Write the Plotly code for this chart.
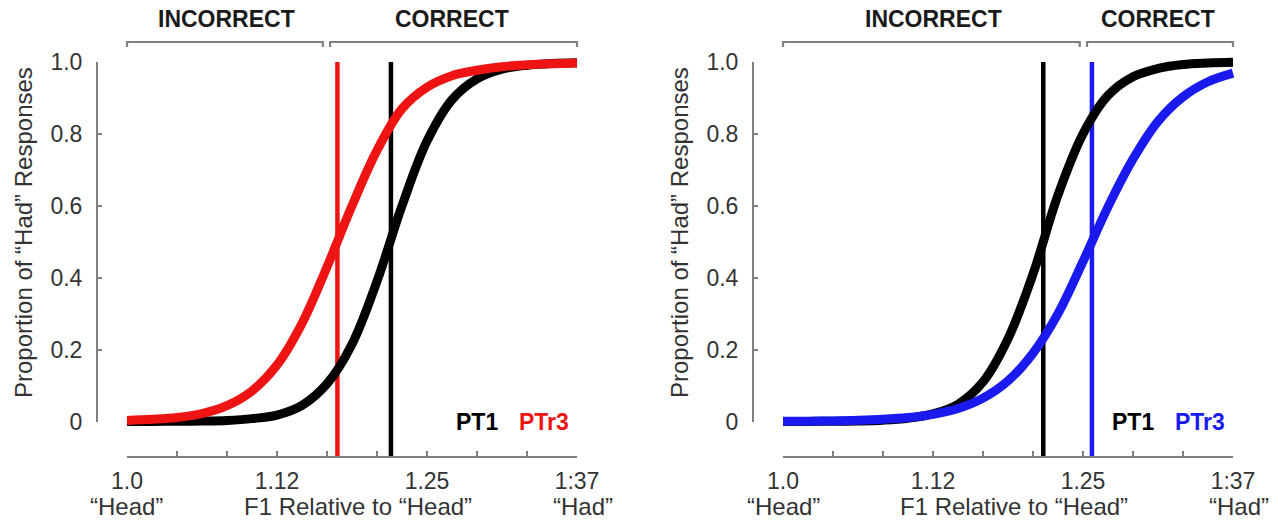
import plotly.graph_objects as go

# ---------------- data ----------------
# stimulus continuum: F1 relative to "Head" (10 steps, values read at half-steps)
f1_steps = [1.0 + i * 0.37 / 18 for i in range(19)]

# left panel
left_PT1 = [0.0001, 0.0002, 0.0006, 0.0013, 0.003, 0.008, 0.018, 0.045, 0.105, 0.215,
            0.39, 0.60, 0.78, 0.895, 0.953, 0.98, 0.991, 0.996, 0.998]
left_PTr3 = [0.003, 0.006, 0.011, 0.022, 0.044, 0.085, 0.157, 0.273, 0.43, 0.60,
             0.754, 0.87, 0.93, 0.962, 0.977, 0.987, 0.992, 0.995, 0.997]
# right panel
right_PT1 = [0.0001, 0.0003, 0.0006, 0.0015, 0.0037, 0.009, 0.021, 0.048, 0.11, 0.23,
             0.41, 0.63, 0.80, 0.907, 0.959, 0.982, 0.993, 0.997, 0.999]
right_PTr3 = [0.0005, 0.001, 0.0017, 0.0032, 0.006, 0.011, 0.02, 0.036, 0.065, 0.113,
              0.19, 0.30, 0.445, 0.597, 0.73, 0.835, 0.903, 0.945, 0.969]

# category boundaries (50% points)
left_boundaries = {"PT1": 1.217, "PTr3": 1.173}
right_boundaries = {"PT1": 1.214, "PTr3": 1.254}
# bracket split between INCORRECT / CORRECT
bracket_split = [1.164, 1.247]

# ticks
x_tickvals = [1.0 + i * 0.37 / 9 for i in range(10)]
x_ticktext = ["1.0", "", "", "1.12", "", "", "1.25", "", "", "1:37"]
y_tickvals = [0, 0.2, 0.4, 0.6, 0.8, 1.0]
y_ticktext = ["0", "0.2", "0.4", "0.6", "0.8", "1.0"]

# ---------------- layout geometry ----------------
W, H = 1284, 523
X_START = [127, 783]          # pixel of x = 1.0 in each panel
PX_PER_X = 450 / 0.37
Y_ZERO = 421.5
PX_PER_Y = 359.5
YAXIS_PX = [97, 753]
XAXIS_PY = 457

FONT = "Liberation Sans, Arial, Helvetica, sans-serif"
RED = "#ee1414"
BLUE = "#1a1aee"
BLACK = "#000000"
GRAY = "#808080"
TXT = "#333333"
FS = 24


def px2paper_x(px):
    return px / W


def py2paper_y(py):
    return 1 - py / H


def px2data(px, panel):
    return 1.0 + (px - X_START[panel]) / PX_PER_X


def py2data(py):
    return (Y_ZERO - py) / PX_PER_Y


fig = go.Figure()

panels = [
    dict(PT1=left_PT1, PTr3=left_PTr3, color=RED, bnd=left_boundaries),
    dict(PT1=right_PT1, PTr3=right_PTr3, color=BLUE, bnd=right_boundaries),
]

annotations = []
shapes = []


def ann(**kw):
    kw.setdefault("showarrow", False)
    kw.setdefault("xanchor", "center")
    kw.setdefault("yanchor", "middle")
    annotations.append(kw)


for p, pan in enumerate(panels):
    xa = "x" if p == 0 else "x2"
    ya = "y" if p == 0 else "y2"
    # vertical boundary lines
    for key, col in (("PT1", BLACK), ("PTr3", pan["color"])):
        b = pan["bnd"][key]
        fig.add_trace(go.Scatter(x=[b, b], y=[py2data(XAXIS_PY), 1.0], mode="lines",
                                 line=dict(color=col, width=4.5), xaxis=xa, yaxis=ya,
                                 showlegend=False, hoverinfo="skip"))
    # curves
    fig.add_trace(go.Scatter(x=f1_steps, y=pan["PT1"], mode="lines",
                             line=dict(color=BLACK, width=9, shape="spline"),
                             xaxis=xa, yaxis=ya, showlegend=False, hoverinfo="skip"))
    fig.add_trace(go.Scatter(x=f1_steps, y=pan["PTr3"], mode="lines",
                             line=dict(color=pan["color"], width=9, shape="spline"),
                             xaxis=xa, yaxis=ya, showlegend=False, hoverinfo="skip"))
    # dummy trace establishing the spine axes
    sx = "x3" if p == 0 else "x4"
    sy = "y3" if p == 0 else "y4"
    fig.add_trace(go.Scatter(x=[1.0], y=[0], mode="markers", marker=dict(opacity=0),
                             xaxis=sx, yaxis=sy, showlegend=False, hoverinfo="skip"))

    # brackets
    split = bracket_split[p]
    by = py2data(42)
    bt = py2data(47)
    for (a, b) in ((1.0, split - 0.003), (split + 0.003, 1.37)):
        shapes.append(dict(type="path", xref=xa, yref=ya,
                           path=f"M {a},{bt} L {a},{by} L {b},{by} L {b},{bt}",
                           line=dict(color=GRAY, width=2.2)))
    ann(x=(1.0 + split) / 2, y=py2paper_y(19), xref=xa, yref="paper",
        text="<b>INCORRECT</b>", font=dict(family=FONT, size=23, color="#1a1a1a"))
    ann(x=(split + 1.37) / 2, y=py2paper_y(19), xref=xa, yref="paper",
        text="<b>CORRECT</b>", font=dict(family=FONT, size=23, color="#1a1a1a"))
    # legend labels
    ann(x=px2data(500, 0), y=0, xref=xa, yref=ya, xanchor="right",
        text="<b>PT1</b>", font=dict(family=FONT, size=23, color=BLACK))
    ann(x=px2data(517, 0), y=0, xref=xa, yref=ya, xanchor="left",
        text="<b>PTr3</b>", font=dict(family=FONT, size=23, color=pan["color"]))
    # x axis title and end labels
    ann(x=px2data(358, 0), y=py2paper_y(506), xref=xa, yref="paper",
        text="F1 Relative to “Head”", font=dict(family=FONT, size=FS, color=TXT))
    ann(x=1.0, y=py2paper_y(506), xref=xa, yref="paper",
        text="“Head”", font=dict(family=FONT, size=FS, color=TXT))
    ann(x=px2data(583, 0), y=py2paper_y(506), xref=xa, yref="paper",
        text="“Had”", font=dict(family=FONT, size=FS, color=TXT))
    # y axis title
    ann(x=px2paper_x(23 + 656 * p), y=py2paper_y(233), xref="paper", yref="paper",
        text="Proportion of “Had” Responses", textangle=-90,
        font=dict(family=FONT, size=FS, color=TXT))

layout = dict(width=W, height=H, margin=dict(l=0, r=0, t=0, b=0, pad=0, autoexpand=False),
              paper_bgcolor="white", plot_bgcolor="rgba(0,0,0,0)",
              shapes=shapes, annotations=annotations, showlegend=False)

for p in range(2):
    sfx = "" if p == 0 else "2"
    dom_x = [X_START[p] - 40, X_START[p] + 490]
    layout["xaxis" + sfx] = dict(domain=[px2paper_x(dom_x[0]), px2paper_x(dom_x[1])],
                                 range=[px2data(dom_x[0], p), px2data(dom_x[1], p)],
                                 visible=False, anchor="y" + sfx, automargin=False)
    layout["yaxis" + sfx] = dict(domain=[py2paper_y(470), py2paper_y(5)],
                                 range=[py2data(470), py2data(5)],
                                 visible=False, anchor="x" + sfx, automargin=False)
    s = str(3 + p)
    layout["xaxis" + s] = dict(domain=[px2paper_x(X_START[p]), px2paper_x(X_START[p] + 450)],
                               range=[1.0, 1.37], anchor="free", position=py2paper_y(XAXIS_PY),
                               showline=True, linecolor=GRAY, linewidth=2,
                               ticks="inside", ticklen=5, tickwidth=2, tickcolor=GRAY,
                               tickvals=x_tickvals, ticktext=x_ticktext,
                               tickfont=dict(family=FONT, size=23, color=TXT),
                               ticklabelstandoff=3, automargin=False,
                               showgrid=False, zeroline=False)
    layout["yaxis" + s] = dict(domain=[py2paper_y(Y_ZERO), py2paper_y(Y_ZERO - PX_PER_Y)],
                               range=[0, 1], anchor="free", position=px2paper_x(YAXIS_PX[p]),
                               showline=True, linecolor=GRAY, linewidth=2,
                               ticks="inside", ticklen=4, tickwidth=1.5, tickcolor=GRAY,
                               tickvals=y_tickvals, ticktext=y_ticktext,
                               tickfont=dict(family=FONT, size=23, color=TXT),
                               ticklabelstandoff=9, automargin=False,
                               showgrid=False, zeroline=False)

fig.update_layout(**layout)
fig.write_html("out.html")
